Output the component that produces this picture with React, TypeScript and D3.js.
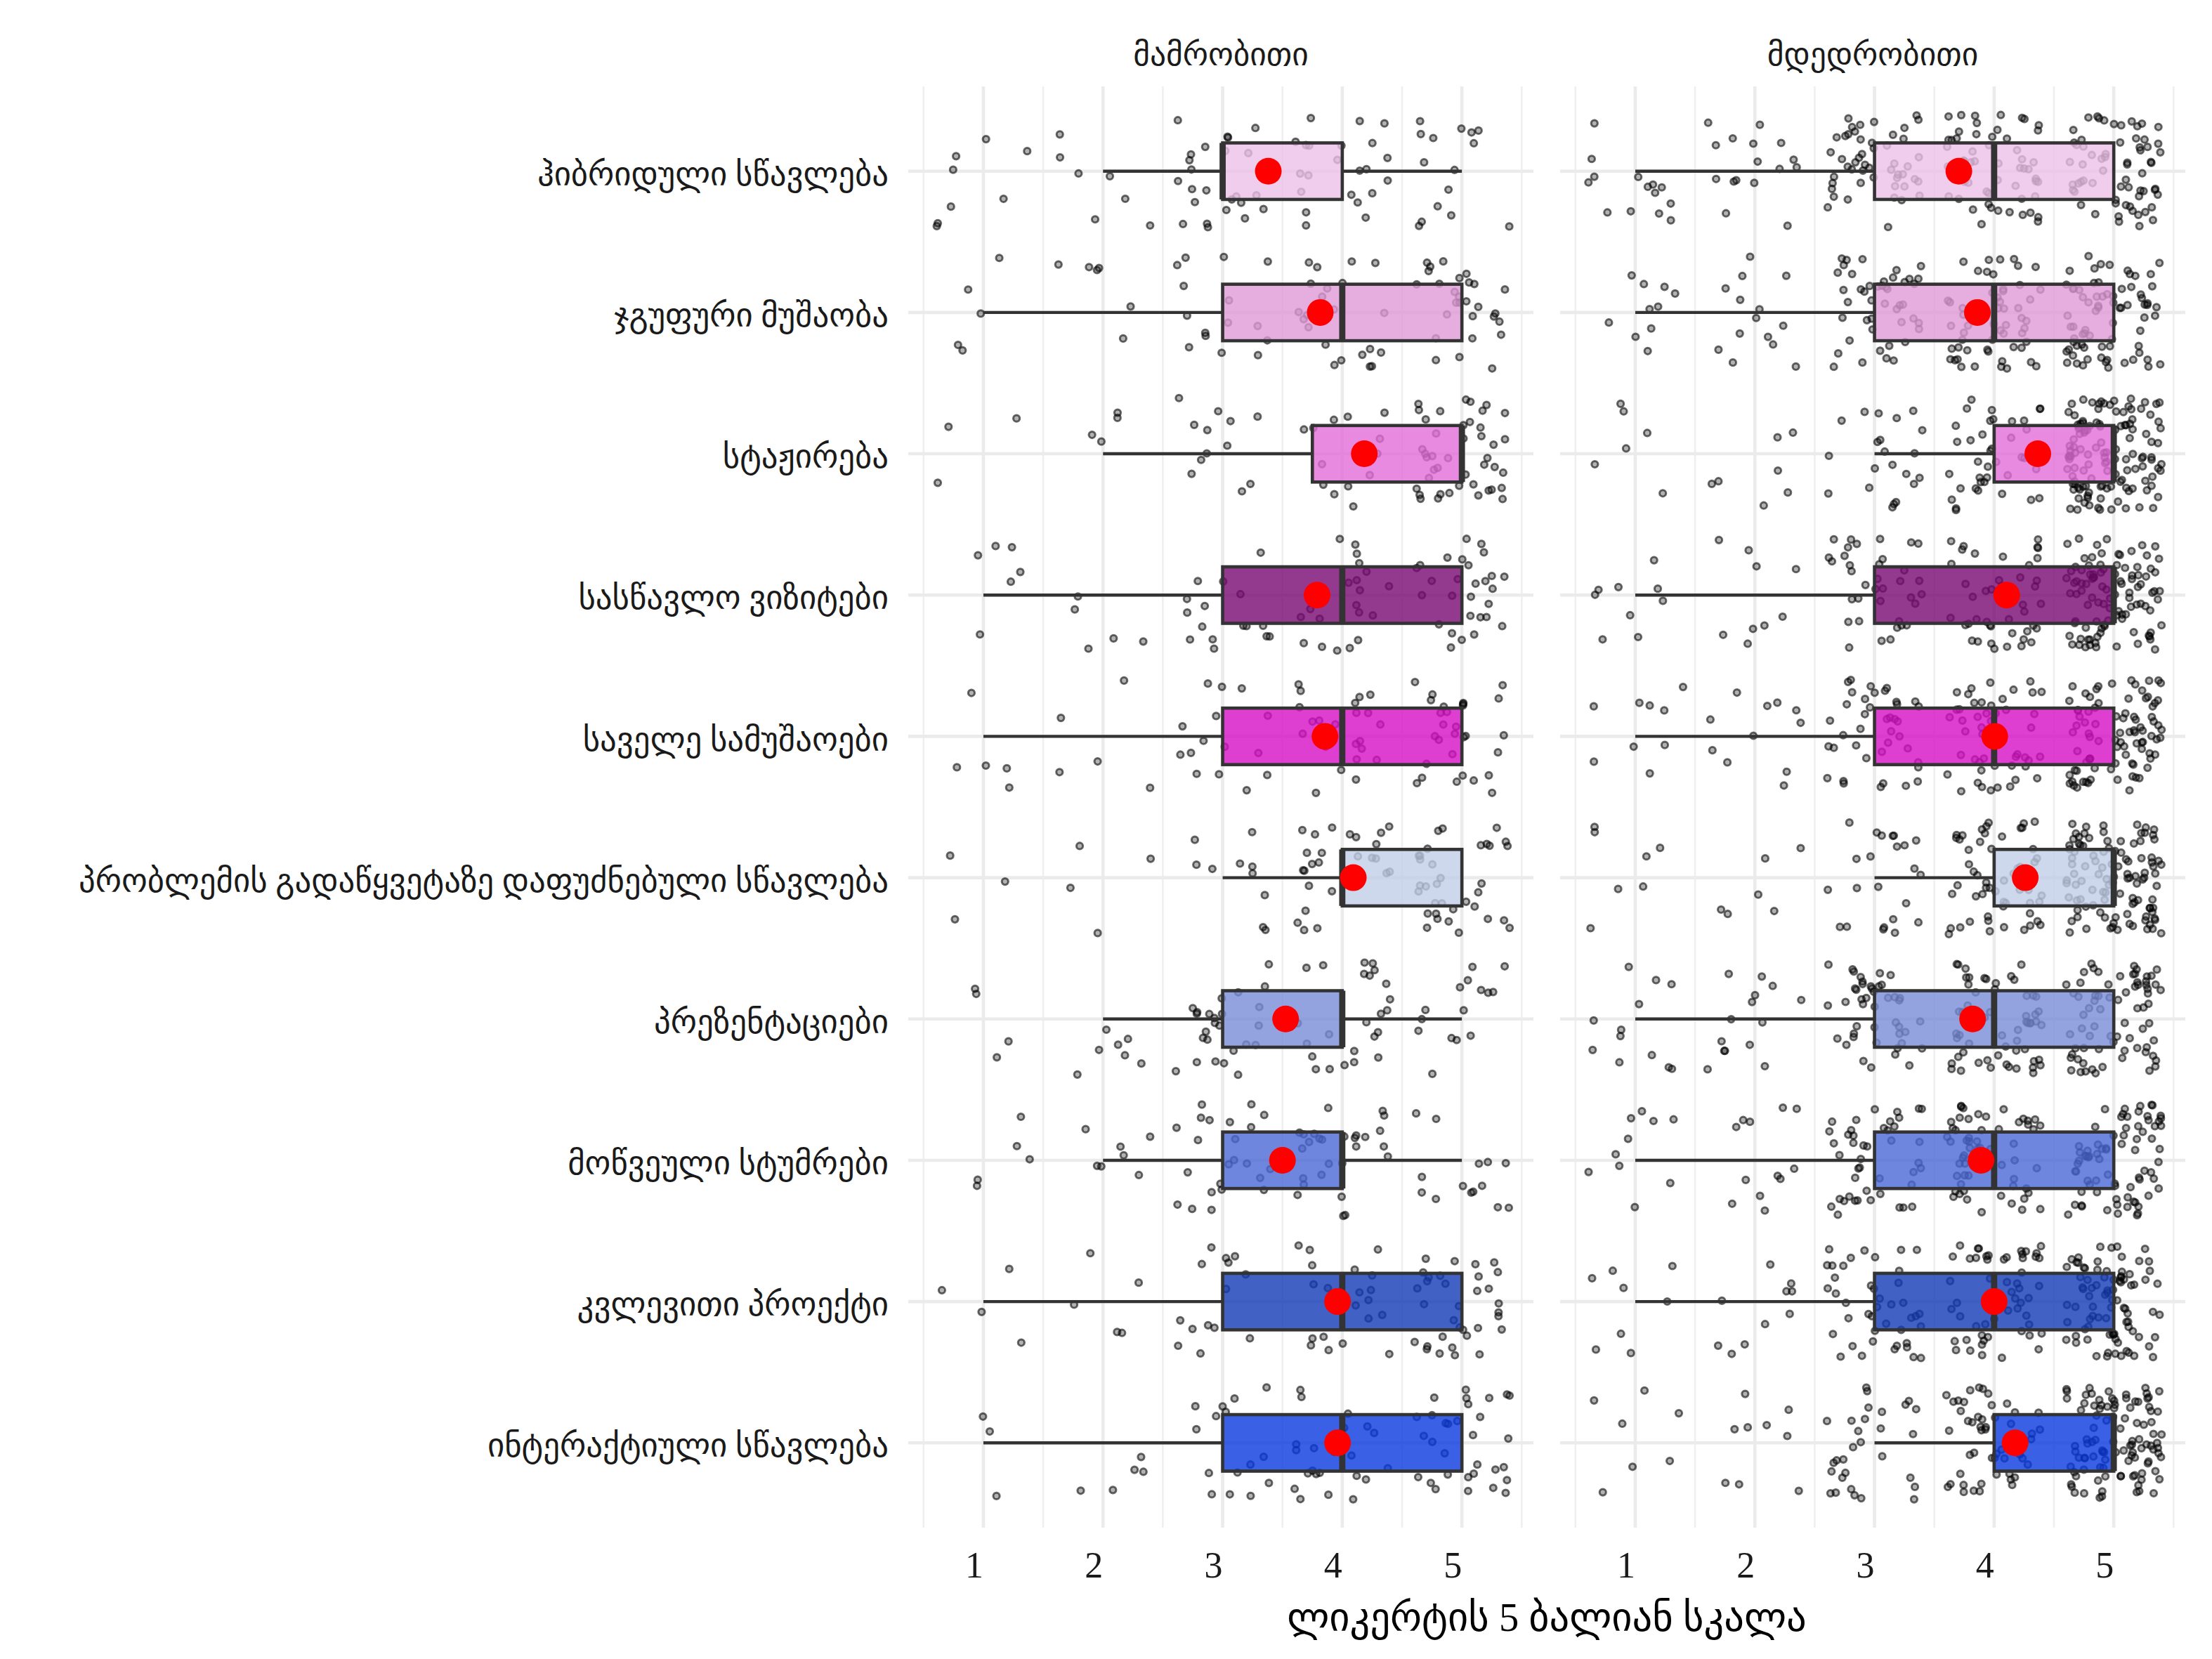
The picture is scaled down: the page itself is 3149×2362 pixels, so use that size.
import React from 'react';
import * as d3 from 'd3';

// სწავლების მეთოდები (ზემოდან ქვემოთ)
const methods = [
  'ჰიბრიდული სწავლება',
  'ჯგუფური მუშაობა',
  'სტაჟირება',
  'სასწავლო ვიზიტები',
  'საველე სამუშაოები',
  'პრობლემის გადაწყვეტაზე დაფუძნებული სწავლება',
  'პრეზენტაციები',
  'მოწვეული სტუმრები',
  'კვლევითი პროექტი',
  'ინტერაქტიული სწავლება',
];
const genders = ['მამრობითი', 'მდედრობითი'];
const scores = [1, 2, 3, 4, 5];
const xTicks = [1, 2, 3, 4, 5];
const xTitle = 'ლიკერტის 5 ბალიან სკალა';

// answers per score (1..5)
const maleCounts = [
  [8, 7, 24, 22, 15],
  [5, 6, 15, 22, 28],
  [3, 4, 12, 14, 43],
  [6, 5, 16, 21, 28],
  [5, 5, 15, 22, 29],
  [3, 4, 10, 25, 34],
  [4, 7, 25, 25, 15],
  [5, 7, 23, 27, 14],
  [4, 5, 14, 20, 33],
  [3, 5, 15, 22, 31],
];
const femaleCounts = [
  [14, 16, 50, 55, 65],
  [10, 14, 45, 56, 75],
  [6, 7, 21, 40, 126],
  [9, 9, 36, 44, 102],
  [9, 11, 40, 50, 90],
  [7, 6, 23, 56, 108],
  [12, 14, 44, 58, 72],
  [10, 12, 44, 58, 76],
  [8, 10, 42, 54, 86],
  [7, 9, 30, 50, 104],
];
const fills = [
  '#ecc0e7', '#de9ad6', '#e26dd7', '#780972', '#d70fc4',
  '#c1cee7', '#788cd8', '#4a68d4', '#1339b5', '#0938e0',
];

const W = 3149;
const H = 2362;
const panelTop = 123;
const panelBottom = 2175;
const panelW = 890;
const panelLefts = [1293, 2221];
// serif for digits, Georgian falls back to DejaVu Sans
const font = '"Liberation Serif", "DejaVu Sans", serif';

function boxStats(counts: number[]) {
  const vals = counts.flatMap((c, i) => d3.range(c).map(() => scores[i]));
  const q1 = d3.quantile(vals, 0.25)!;
  const med = d3.quantile(vals, 0.5)!;
  const q3 = d3.quantile(vals, 0.75)!;
  const iqr = q3 - q1;
  const lo = d3.min(vals.filter(v => v >= q1 - 1.5 * iqr))!;
  const hi = d3.max(vals.filter(v => v <= q3 + 1.5 * iqr))!;
  const mean = d3.mean(vals)!;
  return { vals, q1, med, q3, lo, hi, mean };
}

const App: React.FC = () => {
  const y = d3.scalePoint<string>().domain(methods).range([panelTop, panelBottom]).padding(0.6);
  const step = y.step();
  const boxH = step * 0.4;

  const panels = genders.map((g, gi) => {
    const left = panelLefts[gi];
    const x = d3.scaleLinear().domain([0.372, 5.598]).range([left, left + panelW]);
    const data = gi === 0 ? maleCounts : femaleCounts;
    const rng = d3.randomLcg(gi === 0 ? 0.137 : 0.731);
    const rows = methods.map((m, mi) => {
      const s = boxStats(data[mi]);
      const pts = s.vals.map(v => ({
        cx: x(v + (rng() * 2 - 1) * 0.4),
        cy: y(m)! + (rng() * 2 - 1) * 0.4 * step,
      }));
      return { m, mi, s, pts };
    });
    return { g, gi, left, x, rows };
  });

  return (
    <svg width={W} height={H} style={{ position: 'absolute', left: 0, top: 0, background: '#fff' }}>
      {panels.map(p => (
        <g key={p.g}>
          {/* minor grid */}
          {d3.range(0.5, 6, 1).map(t => (
            <line key={'mn' + t} x1={p.x(t)} x2={p.x(t)} y1={panelTop} y2={panelBottom} stroke="#efefef" strokeWidth={2.6} />
          ))}
          {xTicks.map(t => (
            <line key={'mj' + t} x1={p.x(t)} x2={p.x(t)} y1={panelTop} y2={panelBottom} stroke="#ebebeb" strokeWidth={4.6} />
          ))}
          {methods.map(m => (
            <line key={'h' + m} x1={p.left} x2={p.left + panelW} y1={y(m)} y2={y(m)} stroke="#ebebeb" strokeWidth={4.6} />
          ))}
          {/* jittered answers */}
          {p.rows.map(r => r.pts.map((pt, k) => (
            <circle key={r.mi + '-' + k} cx={pt.cx} cy={pt.cy} r={4.6}
              fill="#000" fillOpacity={0.3} stroke="#000" strokeOpacity={0.58} strokeWidth={3} />
          )))}
          {/* boxplots */}
          {p.rows.map(r => {
            const cy = y(r.m)!;
            return (
              <g key={'b' + r.mi}>
                <line x1={p.x(r.s.lo)} x2={p.x(r.s.q1)} y1={cy} y2={cy} stroke="#333" strokeWidth={4.4} />
                <line x1={p.x(r.s.q3)} x2={p.x(r.s.hi)} y1={cy} y2={cy} stroke="#333" strokeWidth={4.4} />
                <rect x={p.x(r.s.q1)} y={cy - boxH / 2} width={p.x(r.s.q3) - p.x(r.s.q1)} height={boxH}
                  fill={fills[r.mi]} fillOpacity={0.8} stroke="#333" strokeWidth={4.6} />
                <line x1={p.x(r.s.med)} x2={p.x(r.s.med)} y1={cy - boxH / 2} y2={cy + boxH / 2} stroke="#333" strokeWidth={8.8} />
                <circle cx={p.x(r.s.mean)} cy={cy} r={19} fill="#ff0000" />
              </g>
            );
          })}
          {/* strip */}
          <text x={p.left + panelW / 2} y={93} textAnchor="middle" fontFamily={font} fontSize={45.5} fill="#1a1a1a">{p.g}</text>
          {/* x ticks */}
          {xTicks.map(t => (
            <text key={'t' + t} x={p.x(t) - 13} y={2246} textAnchor="middle" fontFamily={font} fontSize={52} fill="#1a1a1a">{t}</text>
          ))}
        </g>
      ))}
      {methods.map(m => (
        <text key={'yl' + m} x={1265} y={y(m)} dy="0.43em" textAnchor="end" fontFamily={font} fontSize={46.8} fill="#1a1a1a">{m}</text>
      ))}
      <text x={(panelLefts[0] + panelLefts[1] + panelW) / 2} y={2322} textAnchor="middle" fontFamily={font} fontSize={56.5} fill="#000">{xTitle}</text>
    </svg>
  );
};

export default App;
